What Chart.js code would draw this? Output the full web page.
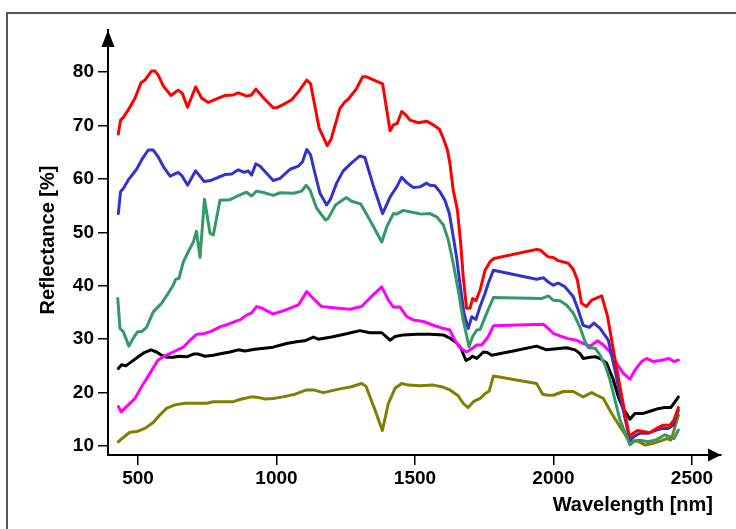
<!DOCTYPE html>
<html>
<head>
<meta charset="utf-8">
<script src="https://cdn.jsdelivr.net/npm/chart.js@4.4.1/dist/chart.umd.min.js"></script>
<style>
  html, body { margin: 0; padding: 0; background: #ffffff; }
  #wrap { width: 736px; height: 529px; position: relative; }
</style>
</head>
<body>
<div id="wrap"><canvas id="c" width="736" height="529"></canvas></div>
<script>
// ---- data (wavelength in nm, reflectance in %) ----
const xTicks = [500, 1000, 1500, 2000, 2500];
const yTicks = [10, 20, 30, 40, 50, 60, 70, 80];

const redX = [429,437,447,465,489,511,525,549,561,573,591,619,645,660,679,708,730,754,790,814,844,862,892,910,925,958,988,1000,1024,1055,1079,1109,1123,1154,1183,1197,1229,1247,1259,1289,1311,1325,1383,1410,1422,1436,1452,1464,1482,1512,1542,1566,1588,1602,1617,1626,1638,1653,1665,1674,1686,1699,1708,1720,1735,1753,1771,1785,1939,1951,1981,1999,2017,2053,2071,2086,2101,2119,2138,2174,2194,2216,2240,2274,2288,2303,2324,2348,2372,2396,2421,2435,2451];
const redY = [68.4,71.0,71.5,72.9,75.1,78.0,78.5,80.2,80.2,79.4,77.4,75.6,76.6,76.0,73.4,77.2,75.1,74.3,75.1,75.6,75.7,76.1,75.5,75.7,76.8,74.9,73.3,73.3,73.9,74.8,76.3,78.5,77.8,69.5,66.2,67.4,73.2,74.4,74.9,76.9,79.1,79.1,77.8,69.0,70.1,70.4,72.6,72.1,71.0,70.5,70.8,70.1,69.3,67.6,65.4,62.9,57.9,54.2,47.9,41.7,35.8,35.8,37.6,37.2,39.2,42.9,44.5,45.1,46.8,46.7,45.4,45.3,44.7,44.2,43.1,41.1,36.7,36.1,37.3,38.1,34.5,28.0,21.1,11.7,12.4,12.9,12.7,12.5,13.3,13.9,13.9,14.9,17.2];

const blueX = [429,437,447,465,495,516,537,555,573,595,616,645,660,679,708,739,763,790,814,838,862,884,898,910,925,940,965,988,1013,1049,1079,1094,1109,1123,1139,1157,1181,1195,1217,1241,1271,1301,1319,1349,1383,1410,1434,1452,1470,1494,1518,1542,1554,1572,1590,1608,1624,1638,1650,1662,1677,1692,1705,1720,1735,1753,1765,1783,1939,1963,1981,1999,2017,2041,2071,2089,2107,2129,2146,2168,2198,2222,2246,2276,2294,2312,2342,2372,2396,2414,2432,2451];
const blueY = [53.5,57.6,58.2,59.8,61.8,63.8,65.4,65.4,64.1,62.0,60.5,61.2,60.5,58.8,61.5,59.5,59.7,60.3,60.8,60.9,61.7,61.2,61.5,60.7,62.8,62.4,61.0,59.7,60.1,61.8,62.4,63.2,65.5,64.5,61.0,57.3,55.1,56.2,59.2,61.5,63.0,64.3,64.0,58.8,53.5,56.6,58.5,60.3,59.3,58.4,58.5,59.2,58.8,58.7,57.6,56.0,53.5,49.2,45.4,40.5,34.8,32.0,34.2,33.7,36.1,38.6,40.5,42.9,41.2,41.5,40.7,40.1,40.5,39.8,38.0,35.5,32.6,32.2,33.0,32.0,29.8,24.2,18.0,11.1,11.9,12.4,12.4,13.0,13.3,13.3,13.9,16.7];

const greenX = [427,435,447,467,483,499,513,531,555,585,609,627,636,648,664,682,700,711,724,740,760,772,796,832,856,892,910,928,956,988,1013,1061,1091,1107,1121,1145,1177,1187,1213,1252,1271,1304,1337,1380,1398,1422,1434,1458,1494,1524,1554,1578,1602,1620,1638,1656,1674,1695,1708,1723,1735,1756,1783,1957,1981,1999,2023,2047,2071,2095,2114,2126,2150,2168,2186,2204,2222,2240,2276,2294,2312,2342,2372,2402,2421,2435,2451];
const greenY = [37.6,32.0,31.4,28.7,30.2,31.4,31.4,32.2,35.1,36.7,38.6,40.1,41.2,41.4,44.5,46.4,48.2,50.2,45.3,56.2,49.8,49.5,56.0,56.1,56.7,57.5,56.8,57.7,57.4,56.9,57.4,57.3,57.7,58.8,57.9,54.5,52.3,52.6,55.1,56.5,55.8,55.3,52.3,48.2,51.0,53.5,53.4,54.1,53.7,53.4,53.5,52.9,51.4,48.6,44.2,39.2,33.6,28.6,30.5,31.7,31.8,34.5,37.8,37.6,38.1,37.3,37.2,36.4,34.9,32.3,29.5,28.4,28.3,27.0,25.2,22.4,18.6,14.9,10.2,11.0,11.1,10.8,11.2,12.1,11.7,11.4,13.0];

const magentaX = [429,439,465,489,513,543,571,591,627,664,688,712,736,766,796,826,850,868,892,910,928,947,988,1024,1079,1109,1133,1163,1205,1265,1307,1349,1380,1404,1422,1446,1470,1494,1530,1566,1596,1626,1644,1662,1687,1705,1723,1741,1765,1783,1963,1981,1999,2023,2053,2083,2107,2132,2159,2180,2204,2228,2252,2276,2294,2318,2336,2360,2384,2402,2417,2435,2451];
const magentaY = [17.4,16.4,17.7,18.9,21.1,23.6,26.0,26.7,27.6,28.5,29.8,30.9,31.0,31.5,32.3,32.8,33.3,33.6,34.5,34.9,36.1,35.8,34.7,35.3,36.4,38.9,37.6,36.1,35.9,35.6,36.1,38.3,39.8,37.3,36.0,36.0,34.2,33.6,33.3,32.6,32.1,31.7,29.8,28.4,27.6,28.2,28.9,28.9,30.5,32.5,32.8,32.0,31.1,30.6,30.1,29.8,29.2,28.7,29.7,28.9,27.6,25.5,23.6,22.5,24.2,25.8,26.4,25.8,26.0,26.2,26.4,25.8,26.1];

const blackX = [429,441,456,477,501,523,547,567,585,604,627,648,676,700,718,742,772,802,832,862,886,922,956,988,1036,1072,1102,1133,1151,1199,1253,1301,1337,1380,1410,1428,1458,1506,1554,1602,1626,1650,1666,1684,1699,1708,1723,1747,1761,1777,1855,1939,1975,2011,2047,2078,2096,2107,2132,2153,2174,2192,2216,2234,2252,2276,2294,2324,2354,2378,2402,2423,2435,2451];
const blackY = [24.5,25.2,25.0,25.8,26.7,27.5,28.0,27.6,27.0,26.6,26.6,26.8,26.7,27.2,27.2,26.8,27.0,27.3,27.6,28.0,27.8,28.1,28.3,28.5,29.2,29.5,29.7,30.4,30.0,30.4,31.0,31.6,31.2,31.2,29.8,30.5,30.8,30.9,30.9,30.8,30.2,29.3,28.3,26.0,26.4,26.8,26.4,27.6,27.5,27.0,27.8,28.7,28.0,28.2,28.4,28.0,27.3,26.4,26.6,26.7,26.2,25.5,22.4,19.2,17.0,15.0,16.1,16.1,16.6,17.0,17.2,17.2,18.0,19.2];

const oliveX = [429,447,471,495,525,555,579,604,634,670,706,748,772,802,844,874,910,934,958,988,1024,1067,1109,1133,1169,1229,1271,1307,1323,1356,1382,1404,1428,1452,1476,1518,1566,1596,1626,1656,1674,1692,1711,1735,1753,1768,1783,1939,1961,1981,1999,2035,2071,2107,2138,2156,2180,2210,2240,2276,2300,2330,2360,2390,2408,2423,2432,2451];
const oliveY = [10.8,11.6,12.6,12.7,13.3,14.4,15.8,17.1,17.7,18.0,18.0,18.0,18.3,18.3,18.3,18.8,19.2,19.1,18.8,18.9,19.2,19.7,20.5,20.5,20.0,20.7,21.1,21.7,21.2,16.7,12.9,18.0,20.8,21.7,21.4,21.3,21.4,21.1,20.5,19.4,18.0,17.2,18.3,18.9,19.8,20.3,23.1,21.7,19.7,19.5,19.5,20.2,20.2,19.2,20.0,19.5,18.9,16.1,13.6,10.8,11.0,10.2,10.5,11.0,11.4,11.1,12.4,15.8];

const pts = (xs, ys) => xs.map((x, i) => ({ x: x, y: ys[i] }));

const series = [
  { label: 'green',   color: '#339966', xs: greenX,   ys: greenY },
  { label: 'red',     color: '#ff0000', xs: redX,     ys: redY },
  { label: 'blue',    color: '#3333cc', xs: blueX,    ys: blueY },
  { label: 'olive',   color: '#808000', xs: oliveX,   ys: oliveY },
  { label: 'magenta', color: '#ff00ff', xs: magentaX, ys: magentaY },
  { label: 'black',   color: '#000000', xs: blackX,   ys: blackY }
];

const FONT = '"Liberation Sans", Arial, Helvetica, sans-serif';

const decor = {
  id: 'decor',
  beforeDraw(chart) {
    const ctx = chart.ctx;
    ctx.save();
    ctx.fillStyle = '#ffffff';
    ctx.fillRect(0, 0, chart.width, chart.height);
    ctx.strokeStyle = '#555555';
    ctx.lineWidth = 2;
    ctx.strokeRect(7, 13, 800, 600);
    ctx.restore();
  },
  afterDraw(chart) {
    const ctx = chart.ctx;
    const a = chart.chartArea;
    ctx.save();
    ctx.fillStyle = '#000000';
    // y arrow
    ctx.beginPath();
    ctx.moveTo(a.left, a.top);
    ctx.lineTo(a.left - 6.5, a.top + 17);
    ctx.lineTo(a.left + 6.5, a.top + 17);
    ctx.closePath();
    ctx.fill();
    // x arrow
    ctx.beginPath();
    ctx.moveTo(a.right, a.bottom);
    ctx.lineTo(a.right - 13, a.bottom - 6.5);
    ctx.lineTo(a.right - 13, a.bottom + 6.5);
    ctx.closePath();
    ctx.fill();
    // axis titles
    ctx.font = 'bold 20px ' + FONT;
    ctx.textAlign = 'right';
    ctx.textBaseline = 'alphabetic';
    ctx.fillText('Wavelength [nm]', 713, 511);
    ctx.translate(54, 240);
    ctx.rotate(-Math.PI / 2);
    ctx.textAlign = 'center';
    ctx.fillText('Reflectance [%]', 0, 0);
    ctx.restore();
  }
};

const plainLabel = v => String(v);

new Chart(document.getElementById('c'), {
  type: 'line',
  data: {
    datasets: series.map(s => ({
      label: s.label,
      data: pts(s.xs, s.ys),
      borderColor: s.color,
      backgroundColor: s.color,
      borderWidth: 3,
      pointRadius: 0,
      tension: 0,
      fill: false,
      borderJoinStyle: 'round',
      borderCapStyle: 'round'
    }))
  },
  options: {
    responsive: false,
    animation: false,
    devicePixelRatio: 1,
    layout: { padding: { left: 0, right: 15, top: 30, bottom: 0 } },
    plugins: { legend: { display: false }, tooltip: { enabled: false } },
    scales: {
      x: {
        type: 'linear',
        min: 391.7,
        max: 2604.7,
        afterBuildTicks: s => { s.ticks = xTicks.map(v => ({ value: v })); },
        afterFit: s => { s.height = 74; },
        grid: { display: true, drawOnChartArea: false, drawTicks: true, tickLength: 10, color: '#000000', lineWidth: 1.5 },
        border: { display: true, color: '#000000', width: 2 },
        ticks: { color: '#000000', font: { family: FONT, size: 19, weight: 'bold' }, padding: 2, maxRotation: 0, autoSkip: false, callback: plainLabel }
      },
      y: {
        type: 'linear',
        min: 8.32,
        max: 87.86,
        afterBuildTicks: s => { s.ticks = yTicks.map(v => ({ value: v })); },
        afterFit: s => { s.width = 108; },
        grid: { display: true, drawOnChartArea: false, drawTicks: true, tickLength: 10, color: '#000000', lineWidth: 1.5 },
        border: { display: true, color: '#000000', width: 2 },
        ticks: { color: '#000000', font: { family: FONT, size: 19, weight: 'bold' }, padding: 4, autoSkip: false, callback: plainLabel }
      }
    }
  },
  plugins: [decor]
});
</script>
</body>
</html>
